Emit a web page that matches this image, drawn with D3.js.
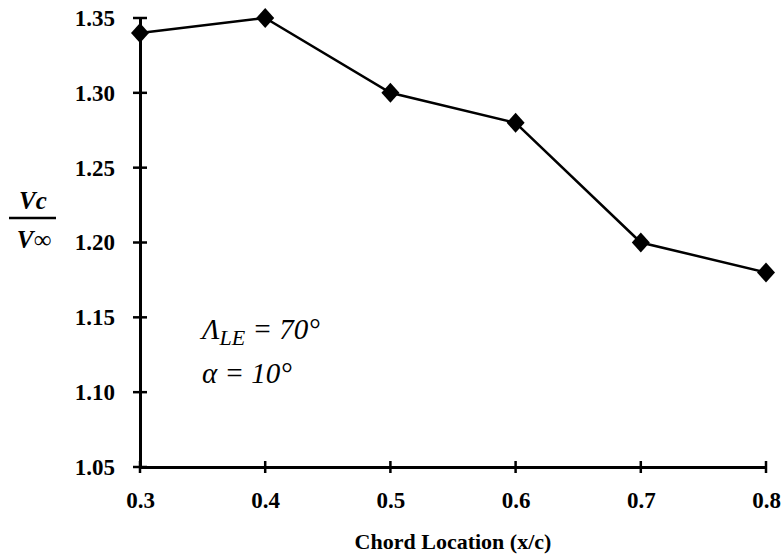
<!DOCTYPE html>
<html>
<head>
<meta charset="utf-8">
<script src="https://cdn.jsdelivr.net/npm/d3@7"></script>
<style>
  body { margin: 0; background: #fff; }
  svg { display: block; }
  text { font-family: "Liberation Serif", "Times New Roman", "DejaVu Serif", serif; }
  .tick text { font-size: 23px; font-weight: bold; fill: #000; }
</style>
</head>
<body>
<div id="chart"></div>
<script>
// chord location vs velocity ratio
var chordLoc = [0.3, 0.4, 0.5, 0.6, 0.7, 0.8];
var velRatio = [1.34, 1.35, 1.30, 1.28, 1.20, 1.18];
var xTicks = [0.3, 0.4, 0.5, 0.6, 0.7, 0.8];
var yTicks = [1.05, 1.10, 1.15, 1.20, 1.25, 1.30, 1.35];

var w = 784, h = 557;
var svg = d3.select("#chart").append("svg")
    .attr("width", w)
    .attr("height", h);

var x = d3.scaleLinear().domain([0.3, 0.8]).range([140, 766]);
var y = d3.scaleLinear().domain([1.05, 1.35]).range([467, 18]);

// axes
var xAxis = d3.axisBottom(x).tickValues(xTicks).tickFormat(d3.format(".1f")).tickSize(0).tickPadding(25);
var yAxis = d3.axisLeft(y).tickValues(yTicks).tickFormat(d3.format(".2f")).tickSize(0).tickPadding(25);

var gx = svg.append("g").attr("transform", "translate(0," + y(1.05) + ")").call(xAxis);
var gy = svg.append("g").attr("transform", "translate(" + x(0.3) + ",0)").call(yAxis);

[gx, gy].forEach(function(g) {
  g.select(".domain").attr("stroke", "#000").attr("stroke-width", 3);
});

// cross ticks
svg.selectAll("line.xt")
    .data(xTicks)
    .enter()
    .append("line")
    .attr("class", "xt")
    .attr("x1", function(d) { return x(d); })
    .attr("x2", function(d) { return x(d); })
    .attr("y1", y(1.05) - 6)
    .attr("y2", y(1.05) + 6)
    .attr("stroke", "#000")
    .attr("stroke-width", 2.5);

svg.selectAll("line.yt")
    .data(yTicks)
    .enter()
    .append("line")
    .attr("class", "yt")
    .attr("x1", x(0.3) - 7)
    .attr("x2", x(0.3) + 7)
    .attr("y1", function(d) { return y(d); })
    .attr("y2", function(d) { return y(d); })
    .attr("stroke", "#000")
    .attr("stroke-width", 2.5);

// data line
var pts = chordLoc.map(function(d, i) { return [d, velRatio[i]]; });
var line = d3.line()
    .x(function(d) { return x(d[0]); })
    .y(function(d) { return y(d[1]); });

svg.append("path")
    .datum(pts)
    .attr("d", line)
    .attr("fill", "none")
    .attr("stroke", "#000")
    .attr("stroke-width", 2.5);

svg.selectAll("path.mk")
    .data(pts)
    .enter()
    .append("path")
    .attr("class", "mk")
    .attr("d", "M0,-10L9,0L0,10L-9,0Z")
    .attr("transform", function(d) { return "translate(" + x(d[0]) + "," + y(d[1]) + ")"; })
    .attr("fill", "#000");

// x title
svg.append("text")
    .attr("x", 453)
    .attr("y", 549)
    .attr("text-anchor", "middle")
    .attr("font-size", 22)
    .attr("font-weight", "bold")
    .text("Chord Location (x/c)");

// y title as fraction
var yl = svg.append("g").attr("font-style", "italic").attr("font-weight", "bold").attr("font-size", 25);
yl.append("text").attr("x", 33).attr("y", 209).attr("text-anchor", "middle").text("Vc");
yl.append("line").attr("x1", 9).attr("x2", 56).attr("y1", 218).attr("y2", 218)
    .attr("stroke", "#000").attr("stroke-width", 2.5);
yl.append("text").attr("x", 34).attr("y", 248).attr("text-anchor", "middle").text("V\u221E");

// annotation
var ann = svg.append("g").attr("font-style", "italic").attr("font-size", 29);
var t1 = ann.append("text").attr("x", 202).attr("y", 339);
t1.append("tspan").text("\u039B");
t1.append("tspan").attr("font-size", 22).attr("dy", 6).text("LE");
t1.append("tspan").attr("dy", -6).text(" = 70\u00B0");
ann.append("text").attr("x", 202).attr("y", 383).text("\u03B1 = 10\u00B0");
</script>
</body>
</html>
